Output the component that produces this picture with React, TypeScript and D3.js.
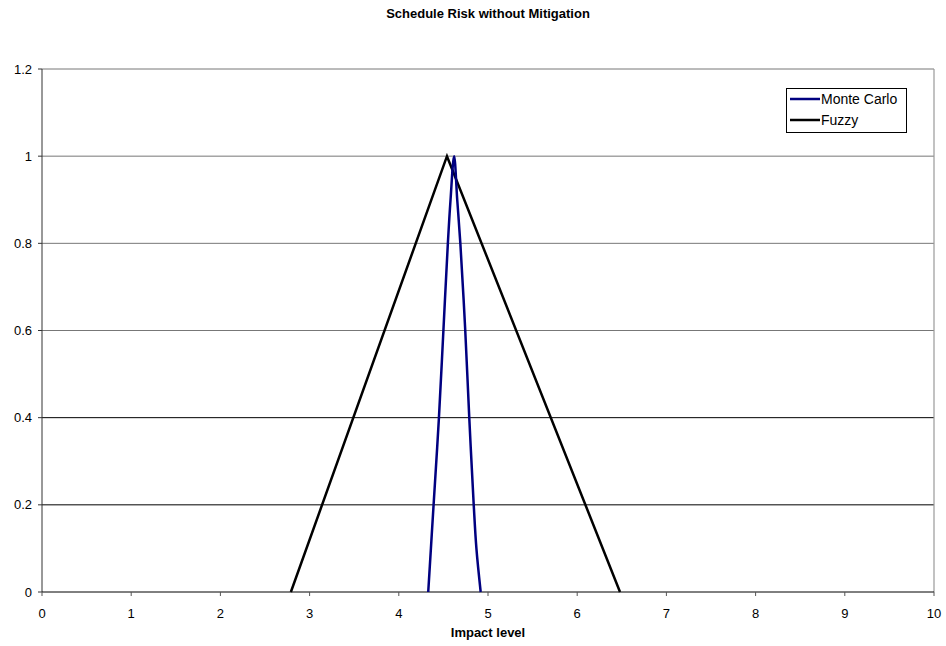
import React from "react";
import * as d3 from "d3";

const title = "Schedule Risk without Mitigation";
const xAxisTitle = "Impact level";
const xTicks = [0, 1, 2, 3, 4, 5, 6, 7, 8, 9, 10];
const yTicks = [0, 0.2, 0.4, 0.6, 0.8, 1, 1.2];
const yTickLabels = ["0", "0.2", "0.4", "0.6", "0.8", "1", "1.2"];

const monteCarloX = [4.33, 4.36, 4.39, 4.45, 4.5, 4.55, 4.58, 4.62, 4.655, 4.69, 4.745, 4.79, 4.84, 4.87, 4.918];
const monteCarloY = [0, 0.1, 0.2, 0.4, 0.6, 0.8, 0.9, 1.0, 0.9, 0.8, 0.6, 0.4, 0.2, 0.1, 0];

const fuzzyX = [2.79, 4.54, 6.48];
const fuzzyY = [0, 1, 0];

const seriesNames = ["Monte Carlo", "Fuzzy"];
const seriesColors = ["#000080", "#000000"];

export default function App() {
  const W = 946, H = 646;
  const left = 42, right = 934, top = 69, bottom = 592;
  const x = d3.scaleLinear().domain([0, 10]).range([left, right]);
  const y = d3.scaleLinear().domain([0, 1.2]).range([bottom, top]);
  const font = "'Liberation Sans', Arial, sans-serif";

  const mc = monteCarloX.map((v, i) => [v, monteCarloY[i]] as [number, number]);
  const fz = fuzzyX.map((v, i) => [v, fuzzyY[i]] as [number, number]);
  const lineMC = d3.line<[number, number]>().x(d => x(d[0])).y(d => y(d[1])).curve(d3.curveCatmullRom.alpha(0.5));
  const lineFz = d3.line<[number, number]>().x(d => x(d[0])).y(d => y(d[1]));

  return (
    <svg width={W} height={H} style={{ position: "absolute", left: 0, top: 0 }}>
      <rect x={0} y={0} width={W} height={H} fill="#fff" />
      <text x={(left + right) / 2} y={18} textAnchor="middle" fontFamily={font} fontWeight="bold" fontSize={13}>{title}</text>
      {yTicks.filter(t => t > 0).map((t, i) => (
        <line key={"g" + i} x1={left} x2={right} y1={y(t)} y2={y(t)} stroke={t <= 0.4 ? "#000" : "#777"} strokeWidth={1} />
      ))}
      <line x1={right} x2={right} y1={top} y2={bottom} stroke="#999" strokeWidth={1.2} />
      <line x1={left} x2={left} y1={top} y2={bottom} stroke="#333" strokeWidth={1} />
      <line x1={left} x2={right} y1={bottom} y2={bottom} stroke="#000" strokeWidth={1} />
      {yTicks.map((t, i) => (
        <g key={"y" + i}>
          <line x1={left - 4} x2={left} y1={y(t)} y2={y(t)} stroke="#333" />
          <text x={left - 10} y={y(t) + 4.5} textAnchor="end" fontFamily={font} fontSize={13}>{yTickLabels[i]}</text>
        </g>
      ))}
      {xTicks.map((t, i) => (
        <g key={"x" + i}>
          <line x1={x(t)} x2={x(t)} y1={bottom} y2={bottom + 4} stroke="#555" />
          <text x={x(t)} y={bottom + 26} textAnchor="middle" fontFamily={font} fontSize={13}>{String(t)}</text>
        </g>
      ))}
      <text x={(left + right) / 2} y={637} textAnchor="middle" fontFamily={font} fontWeight="bold" fontSize={13}>{xAxisTitle}</text>
      <path d={lineFz(fz) || ""} fill="none" stroke={seriesColors[1]} strokeWidth={2.5} />
      <path d={lineMC(mc) || ""} fill="none" stroke={seriesColors[0]} strokeWidth={2.5} />
      <g>
        <rect x={786.5} y={88.5} width={120} height={44} fill="#fff" stroke="#000" strokeWidth={1} />
        {seriesNames.map((n, i) => (
          <g key={"l" + i}>
            <line x1={790} x2={820} y1={99 + i * 21} y2={99 + i * 21} stroke={seriesColors[i]} strokeWidth={2.5} />
            <text x={821} y={99 + i * 21 + 5} fontFamily={font} fontSize={14}>{n}</text>
          </g>
        ))}
      </g>
    </svg>
  );
}
